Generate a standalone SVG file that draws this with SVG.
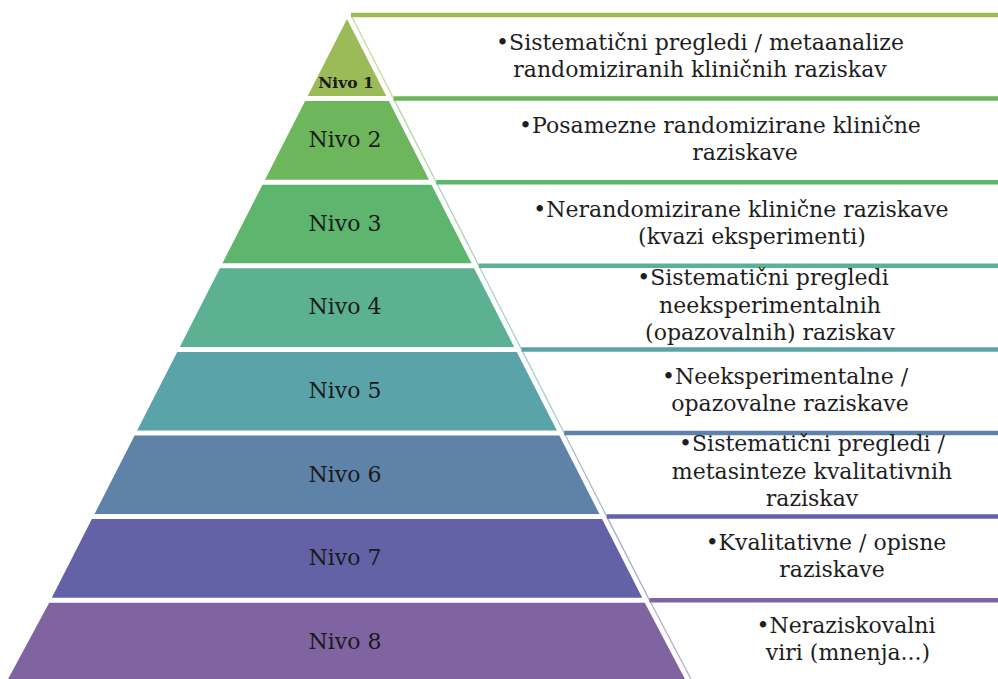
<svg xmlns="http://www.w3.org/2000/svg" width="998" height="679" viewBox="0 0 998 679">
<style>
.lbl{font-family:"DejaVu Serif","Liberation Serif",serif;font-size:22px;fill:#1a1a1a;text-anchor:middle}
.txt{font-family:"DejaVu Serif","Liberation Serif",serif;font-size:22px;fill:#1e1e1e;text-anchor:middle}
.bar{stroke-width:4.5;fill:none}
.diag{stroke-width:1.3;fill:none;stroke-opacity:0.55}
</style>
<rect width="998" height="679" fill="#ffffff"/>
<g id="level1">
<polygon points="347,19 386.3,96.1 307.7,96.1" fill="#9bbb59"/>
<text class="lbl" x="346" y="88" style="font-size:15.5px;font-weight:bold">Nivo 1</text>
<line class="bar" x1="351" y1="15" x2="998" y2="15" stroke="#9bbb59"/>
<text class="txt" x="700" y="50">•Sistematični pregledi / metaanalize</text>
<text class="txt" x="700" y="77">randomiziranih kliničnih raziskav</text>
</g>
<g id="level2">
<polygon points="305.1,101.1 388.9,101.1 429,179.7 265,179.7" fill="#6db65b"/>
<text class="lbl" x="345" y="147">Nivo 2</text>
<line class="bar" x1="393.6" y1="98.6" x2="998" y2="98.6" stroke="#6db65b"/>
<text class="txt" x="720" y="133">•Posamezne randomizirane klinične</text>
<text class="txt" x="745" y="160">raziskave</text>
</g>
<g id="level3">
<polygon points="262.5,184.7 431.5,184.7 471.6,263.3 222.4,263.3" fill="#5db56e"/>
<text class="lbl" x="345" y="231">Nivo 3</text>
<line class="bar" x1="436.3" y1="182.2" x2="998" y2="182.2" stroke="#5db56e"/>
<text class="txt" x="741" y="217">•Nerandomizirane klinične raziskave</text>
<text class="txt" x="752" y="244">(kvazi eksperimenti)</text>
</g>
<g id="level4">
<polygon points="219.9,268.3 474.1,268.3 514.2,346.9 179.8,346.9" fill="#5bb192"/>
<text class="lbl" x="345" y="314">Nivo 4</text>
<line class="bar" x1="478.9" y1="265.8" x2="998" y2="265.8" stroke="#5bb192"/>
<text class="txt" x="763" y="285">•Sistematični pregledi</text>
<text class="txt" x="770" y="313">neeksperimentalnih</text>
<text class="txt" x="770" y="340">(opazovalnih) raziskav</text>
</g>
<g id="level5">
<polygon points="177.2,351.9 516.8,351.9 556.9,430.5 137.1,430.5" fill="#5aa4a9"/>
<text class="lbl" x="345" y="398">Nivo 5</text>
<line class="bar" x1="521.5" y1="349.4" x2="998" y2="349.4" stroke="#5aa4a9"/>
<text class="txt" x="785" y="384">•Neeksperimentalne /</text>
<text class="txt" x="790" y="411">opazovalne raziskave</text>
</g>
<g id="level6">
<polygon points="134.6,435.5 559.4,435.5 599.5,514.1 94.5,514.1" fill="#5f82a8"/>
<text class="lbl" x="345" y="482">Nivo 6</text>
<line class="bar" x1="564.2" y1="433" x2="998" y2="433" stroke="#5f82a8"/>
<text class="txt" x="812" y="451">•Sistematični pregledi /</text>
<text class="txt" x="812" y="479">metasinteze kvalitativnih</text>
<text class="txt" x="812" y="506">raziskav</text>
</g>
<g id="level7">
<polygon points="91.9,519.1 602.1,519.1 642.2,597.7 51.8,597.7" fill="#6462a7"/>
<text class="lbl" x="345" y="565">Nivo 7</text>
<line class="bar" x1="606.8" y1="516.6" x2="998" y2="516.6" stroke="#6462a7"/>
<text class="txt" x="826" y="550">•Kvalitativne / opisne</text>
<text class="txt" x="832" y="577">raziskave</text>
</g>
<g id="level8">
<polygon points="49.2,602.7 644.8,602.7 686,681 7,681" fill="#8064a2"/>
<text class="lbl" x="345" y="649">Nivo 8</text>
<line class="bar" x1="649.5" y1="600.2" x2="998" y2="600.2" stroke="#8064a2"/>
<text class="txt" x="846" y="633">•Neraziskovalni</text>
<text class="txt" x="848" y="660">viri (mnenja...)</text>
</g>
<g id="connectors">
<line class="diag" x1="351" y1="15" x2="393.6" y2="98.6" stroke="#9bbb59"/>
<line class="diag" x1="393.6" y1="98.6" x2="436.3" y2="182.2" stroke="#6db65b"/>
<line class="diag" x1="436.3" y1="182.2" x2="478.9" y2="265.8" stroke="#5db56e"/>
<line class="diag" x1="478.9" y1="265.8" x2="521.5" y2="349.4" stroke="#5bb192"/>
<line class="diag" x1="521.5" y1="349.4" x2="564.2" y2="433" stroke="#5aa4a9"/>
<line class="diag" x1="564.2" y1="433" x2="606.8" y2="516.6" stroke="#5f82a8"/>
<line class="diag" x1="606.8" y1="516.6" x2="649.5" y2="600.2" stroke="#6462a7"/>
<line class="diag" x1="649.5" y1="600.2" x2="691" y2="679" stroke="#8064a2"/>
</g>
</svg>
